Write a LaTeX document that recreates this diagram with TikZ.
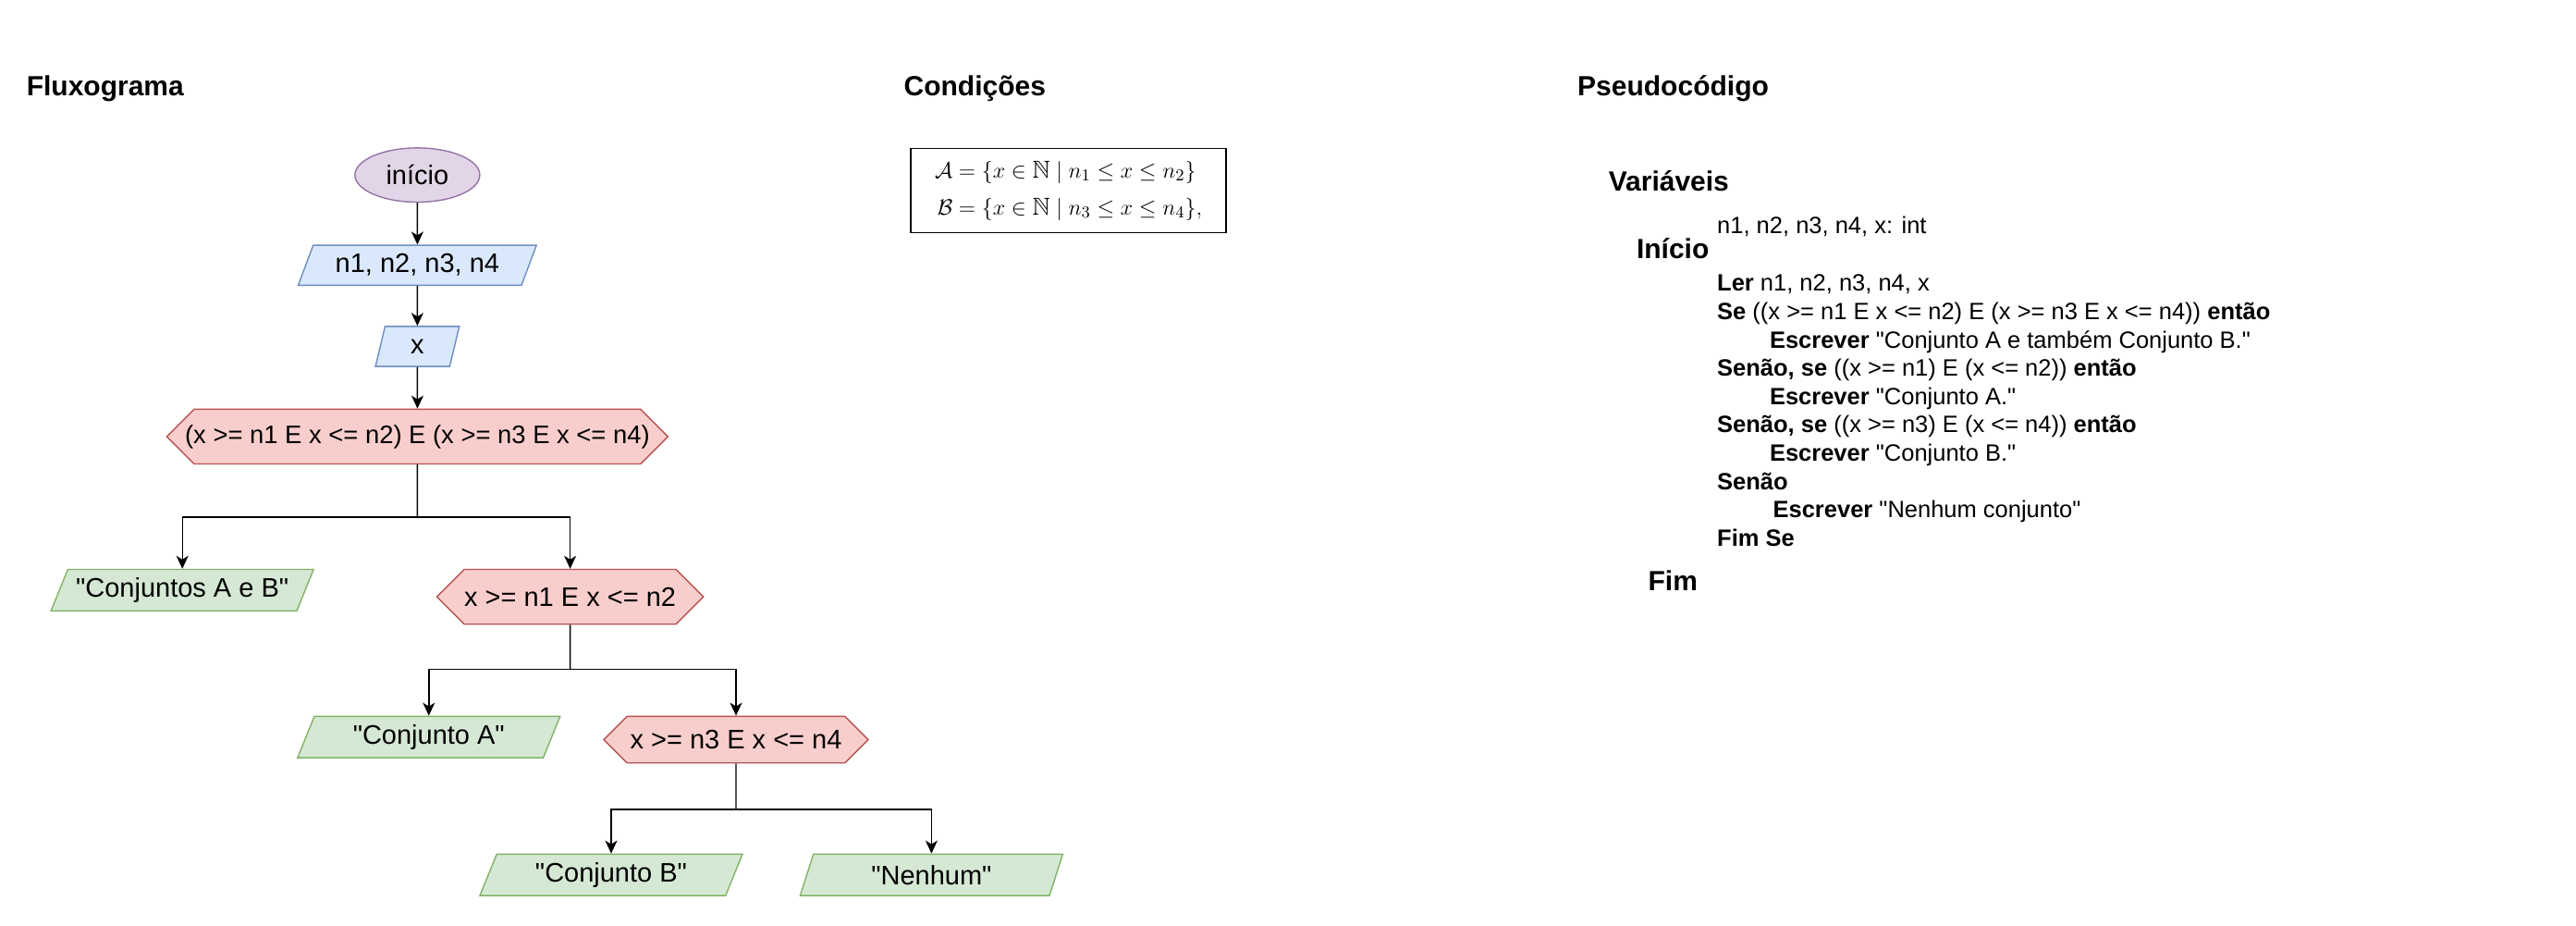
\documentclass[tikz,border=0pt]{standalone}
\usepackage{amssymb}
\usepackage{amsmath}
\usepackage{fontspec}
\setmainfont{Liberation Sans}
\usetikzlibrary{positioning, shapes.geometric, shapes.symbols, arrows.meta}
\usepackage{xcolor}

\definecolor{inicioFill}{HTML}{E1D5E7}
\definecolor{inicioLine}{HTML}{9673A6}
\definecolor{entradaFill}{HTML}{DAE8FC}
\definecolor{entradaLine}{HTML}{6C8EBF}
\definecolor{testeFill}{HTML}{F8CECC}
\definecolor{testeLine}{HTML}{B85450}
\definecolor{saidaFill}{HTML}{D5E8D4}
\definecolor{saidaLine}{HTML}{82B366}

\newcommand{\aspas}[1]{\textquotedbl#1\textquotedbl}

\tikzset{
    inicio/.style={ellipse, draw=inicioLine, fill=inicioFill, line width=0.7pt, inner sep=0pt,
        minimum width=67.5pt, minimum height=29.3pt, font=\fontsize{14.5}{17}\selectfont},
    entrada/.style={trapezium, trapezium left angle=56, trapezium right angle=124, trapezium stretches body,
        draw=entradaLine, fill=entradaFill, line width=0.7pt, inner sep=0pt,
        minimum height=21.6pt, font=\fontsize{14.5}{17}\selectfont},
    saida/.style={entrada, draw=saidaLine, fill=saidaFill, minimum width=142pt, minimum height=22.4pt},
    teste/.style={signal, signal to=west and east, signal from=nowhere, signal pointer angle=90,
        draw=testeLine, fill=testeFill, line width=0.7pt, inner sep=0pt,
        minimum width=143pt, minimum height=29.6pt, font=\fontsize{14.5}{17}\selectfont},
    seta/.style={-{Stealth[length=7pt, width=6.5pt, inset=2pt]}, line width=0.7pt},
    titulo/.style={anchor=west, inner sep=0pt, font=\bfseries\fontsize{15}{18}\selectfont},
    codigo/.style={inner sep=0pt, font=\fontsize{12.75}{15.3}\selectfont}
}

\begin{document}
\begin{tikzpicture}
    \path[use as bounding box, fill=white] (0,0) rectangle (1393pt,-500.5pt);

    \node[titulo] (tflux) at (14.2pt,-48pt) {Fluxograma};
    \node[titulo] (tcond) at (488.6pt,-48pt) {Condições};
    \node[titulo] (tpseudo) at (852.9pt,-48pt) {Pseudocódigo};

    \node[inicio] (ini) at (225.7pt,-94.6pt) {início};
    \node[entrada, minimum width=128.8pt, below=22.6pt of ini] (ler) {n1, n2, n3, n4};
    \node[entrada, minimum width=45.3pt, below=21.6pt of ler] (lerx) {x};
    \node[teste, minimum width=271pt, inner xsep=-5pt, font=\fontsize{13.7}{16}\selectfont, below=22.4pt of lerx] (t1)
        {(x >= n1 E x <= n2) E (x >= n3 E x <= n4)};
    \node[saida, below=56.3pt of t1, xshift=-127.1pt] (ab) {\aspas{Conjuntos A e B}};
    \node[teste, below=56.3pt of t1, xshift=82.6pt] (t2) {x >= n1 E x <= n2};
    \node[saida, below=49.1pt of t2, xshift=-76.4pt] (ca) {\aspas{Conjunto A}};
    \node[teste, minimum height=25.2pt, below=49.1pt of t2, xshift=89.7pt] (t3) {x >= n3 E x <= n4};
    \node[saida, below=48.6pt of t3, xshift=-67.5pt] (cb) {\aspas{Conjunto B}};
    \node[saida, below=48.6pt of t3, xshift=105.7pt] (nenhum) {\aspas{Nenhum}};

    \coordinate[below=28.4pt of t1] (r1);
    \coordinate[below=24pt of t2] (r2);
    \coordinate[below=24.7pt of t3] (r3);

    \draw[seta] (ini) -- (ler);
    \draw[seta] (ler) -- (lerx);
    \draw[seta] (lerx) -- (t1);
    \draw[line width=0.7pt] (t1) -- (r1);
    \draw[seta] (r1) -| (ab);
    \draw[seta] (r1) -| (t2);
    \draw[line width=0.7pt] (t2) -- (r2);
    \draw[seta] (r2) -| (ca);
    \draw[seta] (r2) -| (t3);
    \draw[line width=0.7pt] (t3) -- (r3);
    \draw[seta] (r3) -| (cb);
    \draw[seta] (r3) -| (nenhum);

    \node[draw, line width=0.7pt, inner sep=0pt, minimum width=170.5pt, minimum height=45.3pt, anchor=north west,
        font=\fontsize{13.2}{15}\selectfont] (conj) at (492.2pt,-80pt)
        {\setlength{\jot}{5pt}$\begin{aligned}
            \mathcal{A} &= \{x \in \mathbb{N} \mid n_1 \le x \le n_2\}\\
            \mathcal{B} &= \{x \in \mathbb{N} \mid n_3 \le x \le n_4\},
        \end{aligned}$};

    \node[titulo] (var) at (869.7pt,-97.7pt) {Variáveis};
    \node[codigo, anchor=west] (decl) at (928.4pt,-122.6pt) {n1, n2, n3, n4, x: int};
    \node[titulo] (inicio2) at (884.8pt,-134.1pt) {Início};
    \node[codigo, anchor=north west, align=left] (corpo) at (928.4pt,-148.3pt)
        {\textbf{Ler} n1, n2, n3, n4, x\\
        \textbf{Se} ((x >= n1 E x <= n2) E (x >= n3 E x <= n4)) \textbf{então}\\
        \hspace*{28.4pt}\textbf{Escrever} \aspas{Conjunto A e também Conjunto B.}\\
        \textbf{Senão, se} ((x >= n1) E (x <= n2)) \textbf{então}\\
        \hspace*{28.4pt}\textbf{Escrever} \aspas{Conjunto A.}\\
        \textbf{Senão, se} ((x >= n3) E (x <= n4)) \textbf{então}\\
        \hspace*{28.4pt}\textbf{Escrever} \aspas{Conjunto B.}\\
        \textbf{Senão}\\
        \hspace*{30.2pt}\textbf{Escrever} \aspas{Nenhum conjunto}\\
        \textbf{Fim Se}};
    \node[titulo] (fim) at (891.1pt,-313.6pt) {Fim};
\end{tikzpicture}
\end{document}
